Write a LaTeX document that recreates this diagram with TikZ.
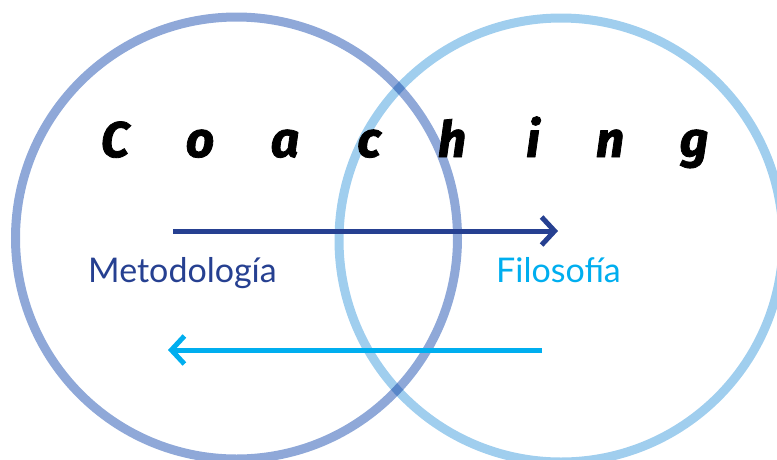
\documentclass[tikz,border=0pt]{standalone}
\usepackage{fontspec}
\setmainfont{Lato}
\newfontfamily\coachfont{Fira Sans}[BoldItalicFeatures={FakeBold=1.6}]
\usetikzlibrary{arrows.meta}

\definecolor{metblue}{RGB}{38,64,145}
\definecolor{filblue}{RGB}{0,174,239}
\definecolor{ringleft}{RGB}{143,168,216}
\definecolor{ringright}{RGB}{160,206,238}

\begin{document}
\begin{tikzpicture}[x=1pt,y=-1pt,
    ring/.style={line width=9pt},
    flow/.style={line width=5pt,-{Straight Barb[length=13pt,width=28pt]}},
    coach/.style={font=\coachfont\bfseries\itshape\fontsize{50}{50}\selectfont,anchor=base,inner sep=0pt},
    word/.style={font=\fontsize{34}{34}\selectfont,anchor=base west,inner sep=0pt}]
    \useasboundingbox (0,0) rectangle (777,459);
    \clip (0,0) rectangle (777,459);

    \coordinate (L) at (236.5,238);
    \coordinate (R) at (561,240);

    \begin{scope}[blend mode=multiply]
        \draw[ring,ringleft] (L) circle (221pt);
        \draw[ring,ringright] (R) circle (222pt);
    \end{scope}

    % Coaching, one letter each
    \foreach \ch/\xx [count=\k] in {C/115,o/200,a/285,c/369,h/452,i/533,n/610,g/694}
        \node[coach] (c\k) at (\xx,157) {\ch};

    \node[word,metblue] (met) at (88,282) {Metodología};
    \node[word,filblue] (fil) at (496,282) {Filosofía};

    \coordinate (ta) at (173,231);
    \coordinate (tb) at (558,231);
    \coordinate (ba) at (542,350);
    \coordinate (bb) at (168,350);

    \draw[flow,metblue] (ta) -- (tb);
    \draw[flow,filblue] (ba) -- (bb);
\end{tikzpicture}
\end{document}
